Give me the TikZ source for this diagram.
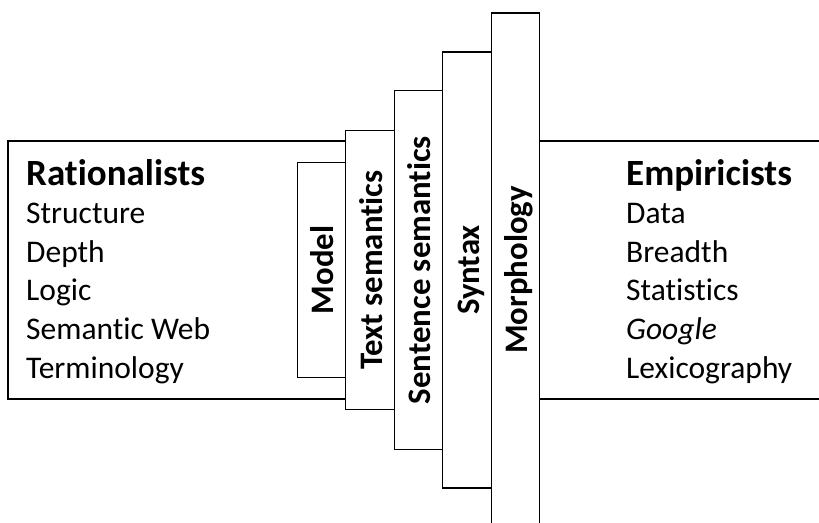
\documentclass[tikz,border=0pt]{standalone}
\usepackage{fontspec}
\setmainfont{Carlito}[Ligatures=NoCommon]
\usetikzlibrary{positioning, calc}

\begin{document}
\begin{tikzpicture}[
    x=1pt, y=-1pt,
    side/.style={
        draw,
        line width=1.2pt,
        fill=white,
        minimum height=258pt,
        inner sep=0pt
    },
    strip/.style={
        draw,
        line width=1.4pt,
        fill=white,
        minimum width=48.5pt,
        minimum height=#1,
        inner sep=0pt,
        outer sep=0pt
    },
    striplbl/.style={rotate=90, anchor=base, inner sep=0pt, font=\fontsize{32.8}{38}\selectfont\bfseries},
    head/.style={anchor=base west, inner sep=0pt, font=\fontsize{37}{40}\selectfont\bfseries},
    item/.style={anchor=base west, inner sep=0pt, font=\fontsize{31.5}{38}\selectfont}
]
\useasboundingbox (0,0) rectangle (819,522);
\clip (0,0) rectangle (819,522);

% === Rationalists / Empiricists ===
\node[side, minimum width=338pt] (rat) at (177,270) {};
\node[side, minimum width=300pt] (emp) at (689,270) {};

\node[head] (rathead) at (26,185) {Rationalists};
\foreach \w [count=\i] in {Structure, Depth, Logic, Semantic Web, Terminology}
    \node[item, name=rat\i] at (26,185+38.6*\i) {\w};

\node[head] (emphead) at (626,185) {Empiricists};
\foreach \w [count=\i] in {Data, Breadth, Statistics, {\itshape Google}, Lexicography}
    \node[item, name=emp\i] at (626,185+38.6*\i) {\w};

% === Levels ===
\node[strip=214.5pt] (model) at (321.5,270) {};
\node[strip=279pt, right=0pt of model] (textsem) {};
\node[strip=359pt, right=0pt of textsem] (sentsem) {};
\node[strip=436pt, right=0pt of sentsem] (syntax) {};
\node[strip=514pt, right=0pt of syntax] (morph) {};

\node[striplbl] (modellbl) at ([xshift=-12pt]model.east) {Model};
\node[striplbl] (textsemlbl) at ([xshift=-12pt]textsem.east) {Text semantics};
\node[striplbl] (sentsemlbl) at ([xshift=-12pt]sentsem.east) {Sentence semantics};
\node[striplbl] (syntaxlbl) at ([xshift=-12pt]syntax.east) {Syntax};
\node[striplbl] (morphlbl) at ([xshift=-12pt]morph.east) {Morphology};

\end{tikzpicture}
\end{document}
